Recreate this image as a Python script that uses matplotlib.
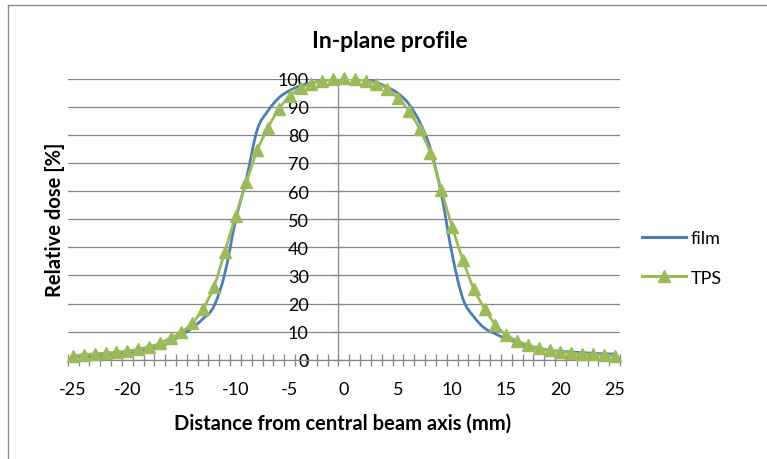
import numpy as np
import matplotlib
matplotlib.use("Agg")
import matplotlib.pyplot as plt
from matplotlib.path import Path
from matplotlib.patches import PathPatch
from matplotlib.lines import Line2D

plt.rcParams['font.family'] = ['Lato', 'DejaVu Sans']

# ---- data ----
distance_mm = list(range(-25, 26))
film = [1.2, 1.4, 1.6, 1.9, 2.2, 2.6, 3.1, 3.7, 4.6, 6.3, 8.8, 11.3, 14.6, 19.0, 30.5, 49.5,
        64.4, 81.8, 88.6, 93.2, 95.8, 97.5, 98.5, 99.3, 99.8, 100.2,
        100.5, 100.5, 98.7, 97.0, 94.8, 91.0, 84.6, 75.0, 59.0, 37.5,
        21.6, 15.3, 11.2, 9.2, 7.4, 6.1, 4.8, 4.0, 3.3, 3.0, 2.7, 2.5, 2.3, 2.1, 2.0]
tps = [1.4, 1.8, 2.1, 2.4, 2.7, 3.1, 3.7, 4.6, 5.8, 7.8, 9.8, 13.0, 18.1, 26.0, 38.3, 51.0,
       63.2, 74.5, 82.6, 89.2, 93.8, 96.6, 98.2, 99.2, 99.8, 100.2,
       99.8, 99.3, 98.2, 96.4, 93.0, 88.6, 82.1, 73.5, 60.4, 47.3,
       35.4, 25.2, 18.1, 12.5, 8.7, 6.8, 5.2, 4.2, 3.4, 2.8, 2.4, 2.1, 1.9, 1.6, 1.4]
xticklabels = [-25, -20, -15, -10, -5, 0, 5, 10, 15, 20, 25]
yticks = [0, 10, 20, 30, 40, 50, 60, 70, 80, 90, 100]

FILM_C = '#4A7EBB'
TPS_C = '#9BBB59'
GRID_C = '#868686'


def smooth_path(xs, ys):
    p = np.column_stack([xs, ys]).astype(float)
    ext = np.vstack([p[0], p, p[-1]])
    verts = [p[0]]
    codes = [Path.MOVETO]
    for i in range(len(p) - 1):
        p0, p1, p2, p3 = ext[i], ext[i + 1], ext[i + 2], ext[i + 3]
        c1 = p1 + (p2 - p0) / 6.0
        c2 = p2 - (p3 - p1) / 6.0
        verts += [c1, c2, p2]
        codes += [Path.CURVE4] * 3
    return Path(verts, codes)


W, H = 767, 460
fig = plt.figure(figsize=(W / 100, H / 100), dpi=100)
ax = fig.add_axes([67.7 / W, 99.3 / H, 552.3 / W, 281 / H])
ax.set_xlim(-25.5, 25.5)
ax.set_ylim(0, 100)

# gridlines
ax.set_yticks(yticks)
ax.yaxis.grid(True, color=GRID_C, linewidth=0.9)
ax.set_axisbelow(True)

ax.add_patch(PathPatch(smooth_path(distance_mm, film), facecolor='none',
                       edgecolor=FILM_C, linewidth=2.0, zorder=3, capstyle='round'))
ax.add_patch(PathPatch(smooth_path(distance_mm, tps), facecolor='none',
                       edgecolor=TPS_C, linewidth=2.0, zorder=4, capstyle='round'))
ax.plot(distance_mm, tps, linestyle='none', marker='^', markersize=8,
        color=TPS_C, zorder=5, clip_on=False)

# spines
for s in ['top', 'right']:
    ax.spines[s].set_visible(False)
ax.spines['left'].set_position(('data', -0.5))
ax.spines['left'].set_color(GRID_C)
ax.spines['bottom'].set_color(GRID_C)
ax.spines['left'].set_linewidth(0.9)
ax.spines['bottom'].set_linewidth(0.9)

# x ticks: marks between categories, labels at categories
ax.set_xticks(np.arange(-25.5, 25.6, 1.0))
ax.set_xticklabels([])
ax.set_xticks(xticklabels, minor=True)
ax.set_xticklabels([str(v) for v in xticklabels], minor=True)
ax.tick_params(axis='x', which='major', direction='inout', length=9, width=0.9, color=GRID_C)
ax.tick_params(axis='x', which='minor', length=0, pad=15, labelsize=13)
ax.tick_params(axis='y', direction='inout', length=7, width=0.9, color=GRID_C,
               pad=18, labelsize=13)

ax.set_xlabel('Distance from central beam axis (mm)', fontsize=14.5, fontweight='bold')
ax.xaxis.set_label_coords((343 - 67.7) / 552.3, (360.7 - 424) / 281)
ax.xaxis.label.set_va('center')
ax.set_ylabel('Relative dose [%]', fontsize=14.5, fontweight='bold')
ax.yaxis.set_label_coords((55 - 67.7) / 552.3, (360.7 - 220) / 281)
ax.yaxis.label.set_va('center')

fig.text(390 / W, 1 - 42 / H, 'In-plane profile', ha='center', va='center',
         fontsize=16.5, fontweight='bold')

handles = [Line2D([], [], color=FILM_C, linewidth=2.2),
           Line2D([], [], color=TPS_C, linewidth=2.2, marker='^', markersize=8)]
fig.legend(handles, ['film', 'TPS'], loc='center left',
           bbox_to_anchor=(626 / W, 1 - 259 / H), frameon=False, fontsize=13,
           handlelength=2.4, handletextpad=0.3, labelspacing=1.3)

# chart border
fig.add_artist(Line2D([7.5 / W, 7.5 / W], [0, 1 - 6 / H], color='#8c8c8c', linewidth=1.0))
fig.add_artist(Line2D([7.5 / W, 1], [1 - 6 / H, 1 - 6 / H], color='#8c8c8c', linewidth=1.0))

fig.savefig('out.png', dpi=100)
